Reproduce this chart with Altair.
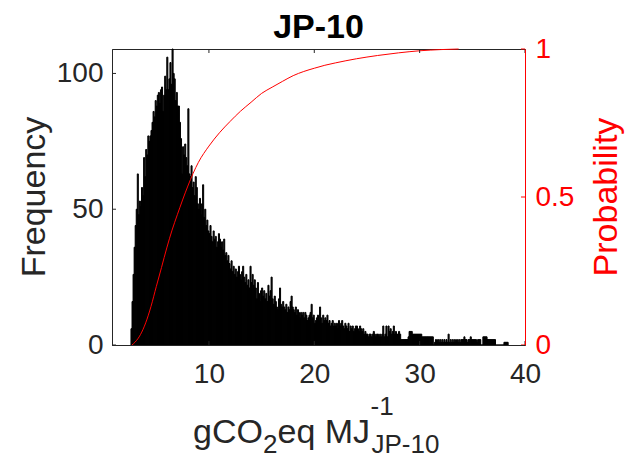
import altair as alt
import pandas as pd

# ---------------- data ----------------
bin_start = 2.6
bin_width = 0.1
freq = [
    6, 16, 26, 36,
    44, 50, 63, 48, 53, 51, 58, 55, 69, 62,
    72, 70, 77, 75, 77, 79, 82, 86, 84, 90,
    88, 92, 93, 89, 94, 95, 86, 92, 99, 94,
    106, 94, 98, 104, 96, 109, 100, 98, 90, 93,
    88, 88, 82, 76, 63, 73, 70, 74, 69, 66,
    87, 63, 62, 66, 58, 60, 55, 62, 58, 52,
    50, 54, 48, 52, 59, 47, 50, 44, 46, 42,
    41, 44, 40, 38, 42, 39, 40, 36, 38, 41,
    39, 36, 38, 35, 39, 33, 34, 31, 33, 30,
    28, 31, 27, 29, 26, 28, 25, 27, 29, 26,
    24, 27, 29, 25, 23, 26, 22, 24, 21, 29,
    23, 26, 22, 24, 21, 17, 23, 19, 16, 20,
    21, 18, 20, 17, 19, 16, 22, 18, 20, 25,
    17, 15, 18, 16, 14, 13, 17, 21, 15, 14,
    16, 14, 13, 15, 12, 14, 13, 16, 18, 14,
    13, 12, 14, 11, 13, 12, 10, 12, 11, 12,
    10, 12, 11, 9, 10, 11, 12, 15, 10, 11,
    8, 9, 10, 11, 9, 14, 10, 8, 11, 9,
    10, 9, 11, 8, 9, 7, 8, 9, 7, 8,
    7, 8, 6, 9, 7, 8, 9, 7, 6, 8,
    7, 6, 8, 5, 7, 6, 7, 5, 6, 7,
    7, 6, 5, 7, 6, 5, 6, 4, 5, 4,
    4, 3, 4, 4, 3, 4, 5, 4, 3, 4,
    4, 3, 4, 3, 4, 7, 3, 4, 7, 3,
    7, 5, 6, 4, 5, 7, 4, 5, 4, 4,
    5, 4, 2, 2, 2, 2, 2, 2, 2, 3,
    5, 5, 5, 4, 4, 4, 4, 4, 4, 4,
    4, 4, 3, 3, 3, 3, 3, 3, 3, 3,
    3, 3, 3, 0, 1, 2, 1, 2, 1, 2,
    1, 2, 1, 2, 1, 2, 1, 4, 1, 2,
    1, 2, 1, 2, 1, 2, 1, 2, 1, 2,
    2, 2, 3, 2, 2, 1, 2, 2, 3, 2,
    2, 2, 2, 2, 1, 2, 2, 2, 0, 0,
    3, 3, 3, 3, 2, 2, 2, 2, 2, 2,
    2, 2, 0, 0, 0, 0, 0, 0, 0, 0,
    1, 1, 1, 1,
]

cdf_x = [2.69, 3.0, 3.5, 4.0, 4.5, 5.0, 5.5, 6.0, 6.5, 7.0, 7.5, 8.0, 8.5,
         9.0, 10.0, 11.0, 12.0, 13.0, 14.0, 15.0, 16.0, 17.0, 18.0, 19.0,
         20.0, 21.0, 22.0, 24.0, 26.0, 28.0, 30.0, 32.0, 33.7]
cdf_p = [0.0, 0.01, 0.035, 0.075, 0.13, 0.197, 0.262, 0.328, 0.388, 0.44,
         0.49, 0.537, 0.58, 0.617, 0.672, 0.717, 0.755, 0.79, 0.82, 0.85,
         0.871, 0.891, 0.91, 0.924, 0.935, 0.945, 0.953, 0.967, 0.978,
         0.987, 0.994, 0.998, 1.0]

x_ticks = [10, 20, 30, 40]
y_left_ticks = [0, 50, 100]
y_right_ticks = [0, 0.5, 1]

title_text = "JP-10"
ylabel_left = "Frequency"
ylabel_right = "Probability"

# ---------------- tables ----------------
x0 = [round(bin_start + i * bin_width, 3) for i in range(len(freq))]
hist = pd.DataFrame({"x0": x0, "x1": [round(v + bin_width, 3) for v in x0], "n": freq})
cdf = pd.DataFrame({"x": cdf_x, "p": cdf_p})

# ---------------- styling ----------------
W, H = 413, 296
XD = [0.8, 40]
YL = [0, 109]
YR = [0, 1]
AXC = "#262626"
RED = "#ff0000"
FONT = "Liberation Sans"

xscale = alt.Scale(domain=XD, nice=False, zero=False)
ylscale = alt.Scale(domain=YL, nice=False, zero=False)
yrscale = alt.Scale(domain=YR, nice=False, zero=False)

xaxis = alt.Axis(values=x_ticks, format="d", title=None, ticks=False, tickSize=0,
                 grid=False, labelFontSize=28, labelPadding=15, labelFont=FONT,
                 labelColor=AXC, domainColor=AXC, labelFlush=False,
                 labelOverlap=False, orient="bottom", zindex=1)

bars = alt.Chart(hist).mark_rect(color="black", stroke="black", strokeWidth=1).encode(
    x=alt.X("x0:Q", scale=xscale, axis=xaxis),
    x2="x1:Q",
    y=alt.Y("n:Q", scale=ylscale,
            axis=alt.Axis(values=y_left_ticks, format="d", title=None, ticks=False, tickSize=0,
                          grid=False, labelFontSize=28, labelPadding=9, labelFont=FONT,
                          labelColor=AXC, domainColor=AXC, labelFlush=False,
                          labelOverlap=False, orient="left", zindex=1)),
    y2=alt.value(H),
)

line = alt.Chart(cdf).mark_line(color=RED, strokeWidth=1, interpolate="monotone").encode(
    x=alt.X("x:Q", scale=xscale, axis=xaxis),
    y=alt.Y("p:Q", scale=yrscale,
            axis=alt.Axis(values=y_right_ticks, format=".1~f", title=None, ticks=False,
                          tickSize=0, grid=False, labelFontSize=28, labelPadding=10,
                          labelFont=FONT, labelColor=RED, domainColor=RED,
                          labelFlush=False, labelOverlap=False, orient="right", zindex=1)),
)

xt = pd.DataFrame({"v": x_ticks})
ylt = pd.DataFrame({"v": y_left_ticks})
yrt = pd.DataFrame({"v": y_right_ticks})

tick_bottom = alt.Chart(xt).mark_rule(color=AXC, strokeWidth=1).encode(
    x=alt.X("v:Q", scale=xscale, axis=xaxis), y=alt.value(H), y2=alt.value(H - 4))
tick_top = alt.Chart(xt).mark_rule(color=AXC, strokeWidth=1).encode(
    x=alt.X("v:Q", scale=xscale, axis=xaxis), y=alt.value(0), y2=alt.value(4))
tick_left = alt.Chart(ylt).mark_rule(color=AXC, strokeWidth=1).encode(
    y=alt.Y("v:Q", scale=ylscale, axis=None), x=alt.value(0), x2=alt.value(4))
tick_right = alt.Chart(yrt).mark_rule(color=RED, strokeWidth=1).encode(
    y=alt.Y("v:Q", scale=yrscale, axis=None), x=alt.value(W), x2=alt.value(W - 4))


def label(text, x, y, size, color=AXC, angle=0, align="left", weight="normal"):
    return alt.Chart(pd.DataFrame({"t": [text]})).mark_text(
        font=FONT, fontSize=size, color=color, angle=angle, align=align,
        baseline="alphabetic", fontWeight=weight,
    ).encode(text="t:N", x=alt.value(x), y=alt.value(y))


texts = [
    label(title_text, W / 2, -11, 34, color="#000000", align="center", weight="bold"),
    label(ylabel_left, -67, H / 2, 34, angle=270, align="center"),
    label(ylabel_right, 504.5, H / 2, 34, color=RED, angle=270, align="center"),
    label("gCO", 81, 394, 34),
    label("2", 151, 404, 26),
    label("eq MJ", 165.5, 394, 34),
    label("-1", 258.5, 365.5, 26),
    label("JP-10", 259.5, 403.5, 26),
]

chart = alt.layer(
    bars, line, tick_bottom, tick_top, tick_left, tick_right, *texts
).resolve_scale(y="independent").properties(
    width=W, height=H,
    autosize=alt.AutoSizeParams(type="none"),
    padding={"left": 112, "top": 49, "right": 100, "bottom": 114},
    background="white",
).configure_view(stroke=AXC, strokeWidth=1)

chart.save("out.html", embed_options={"renderer": "svg", "actions": False})
